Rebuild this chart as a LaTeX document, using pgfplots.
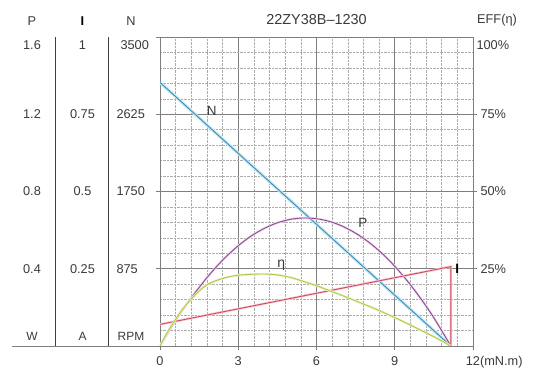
\documentclass[border=0pt]{standalone}
\usepackage{pgfplots}
\pgfplotsset{compat=1.18}
\usepackage{fontspec}
\setmainfont{Liberation Sans}
\definecolor{nline}{HTML}{3D8DB8}
\definecolor{nhalo}{HTML}{C4E9F4}
\definecolor{pline}{HTML}{8E4A90}
\definecolor{phalo}{HTML}{EBD8EE}
\definecolor{eline}{HTML}{B4C64C}
\definecolor{ehalo}{HTML}{EEF3C4}
\definecolor{iline}{HTML}{D04A5E}
\definecolor{ihalo}{HTML}{F6CDD3}
\definecolor{gridmaj}{HTML}{7E7E7E}
\definecolor{gridmin}{HTML}{ACACAC}
\definecolor{txt}{HTML}{3A3A3A}
\newcommand{\lblfont}{\fontsize{12.8}{15}\selectfont}
\pgfplotsset{
  base/.style={scale only axis, width=313bp, height=309bp, xmin=0, xmax=12,
    at={(0bp,0bp)}, anchor=south west,
    tick label style={font=\lblfont, text=txt},
    tick style={gridmaj, line width=0.6pt}},
  overlay/.style={base, hide x axis, y axis line style={draw=none},
    major tick length=0pt, minor tick length=0pt, ytick pos=left,
    yticklabel style={anchor=center}},
}
\begin{document}
\begin{tikzpicture}
\useasboundingbox (-160bp,-26bp) rectangle (374bp,346bp);
% main axis: speed N (RPM) with grid
\begin{axis}[base, ymin=0, ymax=3500,
  xtick={0,3,6,9,12}, xticklabels={0,3,6,9,{12\rlap{(mN.m)}}},
  xticklabel style={yshift=-3bp},
  ytick={0,875,1750,2625,3500}, yticklabels={,875,1750,2625,},
  extra y ticks={3500}, extra y tick labels={3500},
  extra y tick style={grid=none, major tick length=0pt, yticklabel style={yshift=-8bp}},
  minor x tick num=4, minor y tick num=4,
  grid=both,
  major grid style={gridmaj, line width=0.6pt},
  minor grid style={gridmin, line width=0.45pt, dash pattern=on 2.5bp off 1bp},
  axis line style={gridmaj, line width=0.8pt},
  tick align=outside, major tick length=4bp, minor tick length=0pt,
  xtick pos=left, ytick pos=left,
  yticklabel style={anchor=west, xshift=-43bp},
]
\addplot[nhalo, line width=3.2pt] coordinates {(0,2985) (11.15,0)};
\addplot[nline, line width=0.9pt] coordinates {(0,2985) (11.15,0)};
\node[font=\fontsize{13.5}{15}\selectfont, text=txt] at (axis cs:1.98,2662) {N};
\end{axis}
% power P (W)
\begin{axis}[overlay, ymin=0, ymax=1.6,
  ytick={0.4,0.8,1.2}, yticklabels={0.4,0.8,1.2},
  extra y ticks={1.6}, extra y tick labels={1.6},
  extra y tick style={yticklabel style={yshift=-8bp}},
  yticklabel style={xshift=-128bp}]
\addplot[phalo, line width=2.4pt, smooth] coordinates {
(0,0) (0.5,0.112) (1.0,0.212) (1.5,0.303) (2.0,0.386) (2.5,0.458) (3.0,0.519)
(3.5,0.570) (4.0,0.609) (4.5,0.638) (5.0,0.656) (5.5,0.663) (6.0,0.659)
(6.5,0.645) (7.0,0.620) (7.5,0.584) (8.0,0.538) (8.5,0.481) (9.0,0.413)
(9.5,0.334) (10.0,0.245) (10.5,0.146) (11.15,0)};
\addplot[pline, line width=0.9pt, smooth] coordinates {
(0,0) (0.5,0.112) (1.0,0.212) (1.5,0.303) (2.0,0.386) (2.5,0.458) (3.0,0.519)
(3.5,0.570) (4.0,0.609) (4.5,0.638) (5.0,0.656) (5.5,0.663) (6.0,0.659)
(6.5,0.645) (7.0,0.620) (7.5,0.584) (8.0,0.538) (8.5,0.481) (9.0,0.413)
(9.5,0.334) (10.0,0.245) (10.5,0.146) (11.15,0)};
\node[font=\fontsize{13.5}{15}\selectfont, text=txt] at (axis cs:7.78,0.635) {P};
\end{axis}
% current I (A)
\begin{axis}[overlay, ymin=0, ymax=1,
  ytick={0.25,0.5,0.75}, yticklabels={0.25,0.5,0.75},
  extra y ticks={1}, extra y tick labels={1},
  extra y tick style={yticklabel style={yshift=-8bp}},
  yticklabel style={xshift=-77.5bp}]
\addplot[ihalo, line width=2.4pt] coordinates {(0,0.070) (11.15,0.257) (11.15,0)};
\addplot[iline, line width=0.9pt] coordinates {(0,0.070) (11.15,0.257) (11.15,0)};
\node[font=\fontsize{13.5}{15}\selectfont\bfseries, text=black] at (axis cs:11.4,0.248) {I};
\end{axis}
% efficiency (%)
\begin{axis}[base, ymin=0, ymax=100, hide x axis,
  axis y line*=right, y axis line style={gridmaj, line width=0.8pt},
  ytick={25,50,75}, yticklabels={25\%,50\%,75\%},
  extra y ticks={100}, extra y tick labels={100\%},
  extra y tick style={major tick length=0pt, yticklabel style={yshift=-8bp}},
  tick align=outside, major tick length=4bp, minor tick length=0pt,
  yticklabel style={anchor=west}]
\addplot[ehalo, line width=2.4pt, smooth] coordinates {
(0,0) (0.3,4.7) (0.6,8.7) (0.9,12.3) (1.2,15.2) (1.5,17.8) (1.8,19.8) (2.2,21.3)
(2.6,22.3) (3.0,22.9) (3.5,23.2) (4.0,23.3) (4.5,23.0) (5.0,22.2) (5.5,20.9)
(6.0,19.5) (6.5,17.9) (7.0,16.3) (7.5,14.6) (8.0,12.9) (8.5,11.1) (9.0,9.2)
(9.5,7.2) (10.0,5.1) (10.5,3.0) (11.15,0)};
\addplot[eline, line width=0.9pt, smooth] coordinates {
(0,0) (0.3,4.7) (0.6,8.7) (0.9,12.3) (1.2,15.2) (1.5,17.8) (1.8,19.8) (2.2,21.3)
(2.6,22.3) (3.0,22.9) (3.5,23.2) (4.0,23.3) (4.5,23.0) (5.0,22.2) (5.5,20.9)
(6.0,19.5) (6.5,17.9) (7.0,16.3) (7.5,14.6) (8.0,12.9) (8.5,11.1) (9.0,9.2)
(9.5,7.2) (10.0,5.1) (10.5,3.0) (11.15,0)};
\node[font=\fontsize{14}{16}\selectfont, text=txt] at (axis cs:4.65,26.1) {η};
\end{axis}
% left columns decoration
\draw[gridmaj, line width=0.8pt] (-148bp,0bp) -- (0bp,0bp);
\draw[black!75, line width=0.9pt] (-105bp,0bp) -- (-105bp,309bp);
\draw[black!75, line width=0.9pt] (-51.7bp,0bp) -- (-51.7bp,309bp);
\node[font=\lblfont, text=txt] at (-128bp,325bp) {P};
\node[font=\lblfont\bfseries, text=black] at (-77.5bp,325bp) {I};
\node[font=\lblfont, text=txt] at (-29bp,325bp) {N};
\node[font=\fontsize{12}{14}\selectfont, text=txt] at (-128bp,9.5bp) {W};
\node[font=\fontsize{12}{14}\selectfont, text=txt] at (-77.5bp,9.5bp) {A};
\node[font=\fontsize{12}{14}\selectfont, text=txt] at (-29bp,9.5bp) {RPM};
\node[font=\fontsize{14.5}{16}\selectfont, text=txt] at (156.5bp,326bp) {22ZY38B--1230};
\node[font=\lblfont, text=txt] at (337bp,326bp) {EFF(η)};
\end{tikzpicture}
\end{document}
